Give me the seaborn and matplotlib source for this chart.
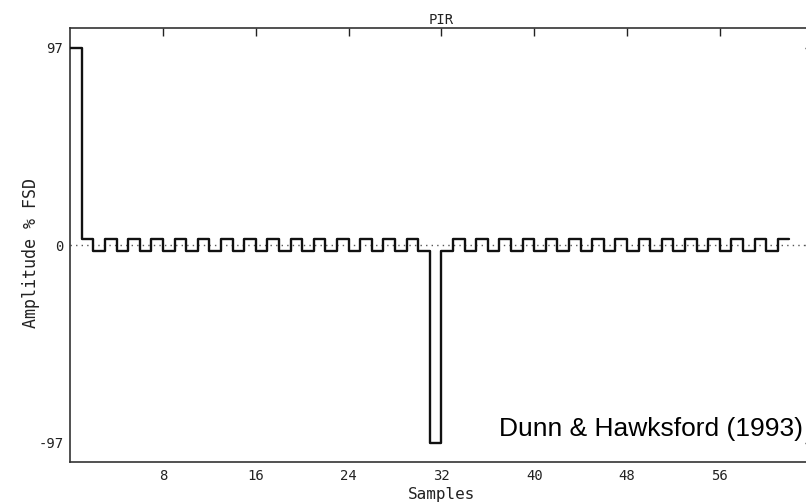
import matplotlib
matplotlib.use("Agg")
import matplotlib.pyplot as plt
import seaborn as sns
import pandas as pd

# ---- data ----
samples = list(range(62))
amplitude = [
    97,
    3, -3, 3, -3, 3, -3, 3, -3, 3, -3,
    3, -3, 3, -3, 3, -3, 3, -3, 3, -3,
    3, -3, 3, -3, 3, -3, 3, -3, 3, -3,
    -97,
    -3,
    3, -3, 3, -3, 3, -3, 3, -3, 3, -3,
    3, -3, 3, -3, 3, -3, 3, -3, 3, -3,
    3, -3, 3, -3, 3, -3, 3, -3, 3,
]
x_ticks = [8, 16, 24, 32, 40, 48, 56]
y_ticks = [-97, 0, 97]
y_tick_labels = ["-97", "0", "97"]

# step outline: close the last sample with its right edge
df = pd.DataFrame({
    "Sample": samples + [samples[-1] + 1],
    "Amplitude": amplitude + [amplitude[-1]],
})

sns.set_style("white")
plt.rcParams["font.family"] = ["DejaVu Sans Mono", "DejaVu Sans"]

W, H = 806, 504
fig = plt.figure(figsize=(W / 100, H / 100), dpi=100)
left, right, top, bottom = 70.2, 812.6, 28, 462
ax = fig.add_axes([left / W, (H - bottom) / H, (right - left) / W, (bottom - top) / H])

ax.axhline(0, color="#555555", lw=1.0, ls=(0, (1, 3)), zorder=1)
sns.lineplot(data=df, x="Sample", y="Amplitude", ax=ax, estimator=None, sort=False,
             drawstyle="steps-post", color="#111111", lw=1.7, zorder=3)

ax.set_xlim(0, 64)
ax.set_ylim(-106.5, 106.8)
ax.set_xticks(x_ticks)
ax.set_xticklabels([str(t) for t in x_ticks])
ax.set_yticks(y_ticks)
ax.set_yticklabels(y_tick_labels)

for s in ax.spines.values():
    s.set_visible(True)
    s.set_color("#333333")
    s.set_linewidth(1.2)

ax.tick_params(direction="in", length=6, width=1.0, color="#222222",
               top=True, right=True, labelsize=10, pad=5, labelcolor="#222222")

ax.set_title("PIR", fontsize=10, pad=3, color="#222222")
ax.set_xlabel("Samples", fontsize=11.5, labelpad=3, color="#222222")
ax.set_ylabel("Amplitude % FSD", fontsize=12, color="#222222")
ax.yaxis.set_label_coords((40 - left) / (right - left), (bottom - 253) / (bottom - top))

fig.text(499 / W, (H - 436) / H, "Dunn & Hawksford (1993)", fontsize=19,
         family="Liberation Sans", ha="left", va="baseline", color="black")

fig.savefig("out.png", dpi=100)
